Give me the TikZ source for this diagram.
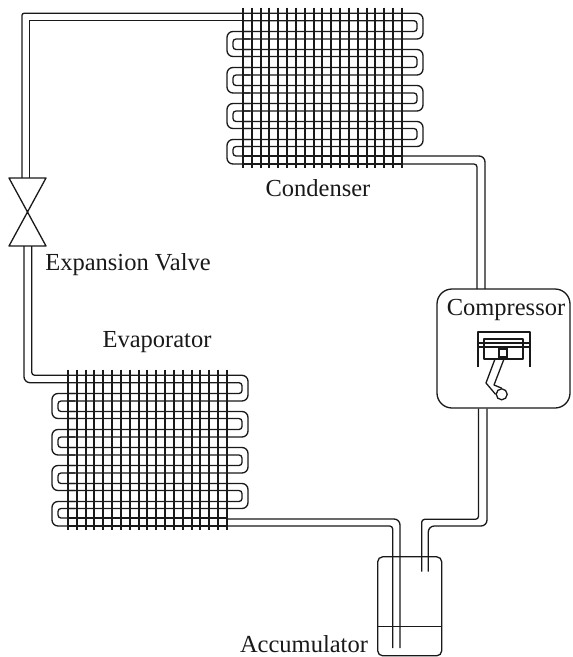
\documentclass[tikz,border=0pt]{standalone}
\usepackage{fontspec}
\setmainfont{Liberation Serif}
\usepackage{tikz}
\usetikzlibrary{positioning}

\tikzset{
  pipeline/.style={draw=black!90, line width=1.3pt, line join=round},
  finline/.style={draw=black!90, line width=1.8pt},
  bendouter/.style={pipeline, rounded corners=6pt},
  bendinner/.style={pipeline, rounded corners=3pt},
  partlabel/.style={font=\fontsize{24.5}{26}\selectfont, text=black!90, inner sep=0pt},
  coil/.pic={
    % Bends on the right, outer and inner line
    \foreach \ya/\yb in {13.3/39, 49.5/75, 85.5/111, 121.5/146.5} {
      \draw[bendouter] (243,\ya) -- (423,\ya) -- (423,\yb) -- (243,\yb);
    }
    \foreach \ya/\yb in {20.7/31.5, 56.5/67.5, 93/103.5, 128.5/139.5} {
      \draw[bendinner] (243,\ya) -- (417,\ya) -- (417,\yb) -- (243,\yb);
    }
    % Bends on the left
    \foreach \ya/\yb in {31.5/56.5, 67.5/93, 103.5/128.5, 139.5/164} {
      \draw[bendouter] (250,\ya) -- (227,\ya) -- (227,\yb) -- (250,\yb);
    }
    \foreach \ya/\yb in {39/49.5, 75/85.5, 111/121.5, 146.5/156} {
      \draw[bendinner] (250,\ya) -- (233,\ya) -- (233,\yb) -- (250,\yb);
    }
    \draw[pipeline] (243,156) -- (402,156) (243,164) -- (402,164);
    % Fins
    \foreach \i in {0,...,18} {
      \pgfmathsetmacro{\finx}{round(243+8.83*\i)}
      \draw[finline] (\finx,7.5) -- (\finx,168);
    }
  }
}

\begin{document}
\begin{tikzpicture}[x=1pt, y=-1pt]
  \useasboundingbox (0,0) rectangle (573,657);

  % Coils
  \pic (condenser) at (0,0) {coil};
  \pic (evaporator) at (-175,362) {coil};

  % Valve
  \coordinate (valvemid) at (27.5,212);
  \draw[pipeline] (9,178) -- (46,178) -- (valvemid) -- (46,246) -- (9,246) -- (valvemid) -- cycle;

  % Pipe from condenser to valve
  \draw[pipeline, rounded corners=2pt] (243,13.3) -- (22,13.3) -- (22,178);
  \draw[pipeline] (243,20.7) -- (29.5,20.7) -- (29.5,178);

  % Pipe from valve to evaporator
  \draw[bendouter] (24,246) -- (24,382.7) -- (68,382.7);
  \draw[bendinner] (31.7,246) -- (31.7,375.3) -- (68,375.3);

  % Pipe from condenser to compressor
  \draw[bendouter] (402,156) -- (485,156) -- (485,289);
  \draw[bendinner] (402,164) -- (477,164) -- (477,289);

  % Compressor
  \node[draw=black!90, line width=1.3pt, rounded corners=15pt, minimum width=133pt, minimum height=119pt, inner sep=0pt] (compressor) at (503.5,348.5) {};
  \node[partlabel] (compressorlabel) at (506,309.5) {Compressor};

  % Piston
  \draw[pipeline] (478,367) -- (478,332) -- (530,332) -- (530,367);
  \draw[pipeline] (478,343) -- (530,343) (478,347) -- (530,347);
  \draw[pipeline] (484,339) rectangle (523,359);
  \node[draw=black!90, line width=1.3pt, minimum size=8pt, inner sep=0pt] (pistonpin) at (503,353) {};
  \node[draw=black!90, line width=1.3pt, circle, minimum size=11pt, inner sep=0pt] (crankpin) at (501.7,394.3) {};
  \draw[pipeline] (495,359) -- (486,383) -- (crankpin.west);
  \draw[pipeline] (504,359) -- (494,385) -- (crankpin.north);

  % Pipe from compressor to accumulator
  \draw[bendouter] (compressor.south -| 487,0) -- (487,526) -- (428.3,526) -- (428.3,571.7);
  \draw[bendinner] (compressor.south -| 478.5,0) -- (478.5,519.3) -- (421.7,519.3) -- (421.7,571.7);

  % Pipe from evaporator to accumulator
  \draw[bendouter] (227,519) -- (400,519) -- (400,648);
  \draw[bendinner] (227,526) -- (392.7,526) -- (392.7,648);

  % Accumulator
  \node[draw=black!90, line width=1.3pt, rounded corners=5pt, minimum width=64pt, minimum height=99pt, inner sep=0pt] (accumulator) at (409.7,606.3) {};
  \draw[pipeline] (accumulator.west |- 0,626.7) -- (accumulator.east |- 0,626.7);

  % Labels
  \node[partlabel] (condenserlabel) at (318,188) {Condenser};
  \node[partlabel] (valvelabel) at (128,265) {Expansion Valve};
  \node[partlabel] (evaporatorlabel) at (157,342) {Evaporator};
  \node[partlabel] (accumulatorlabel) at (304,644) {Accumulator};
\end{tikzpicture}
\end{document}
